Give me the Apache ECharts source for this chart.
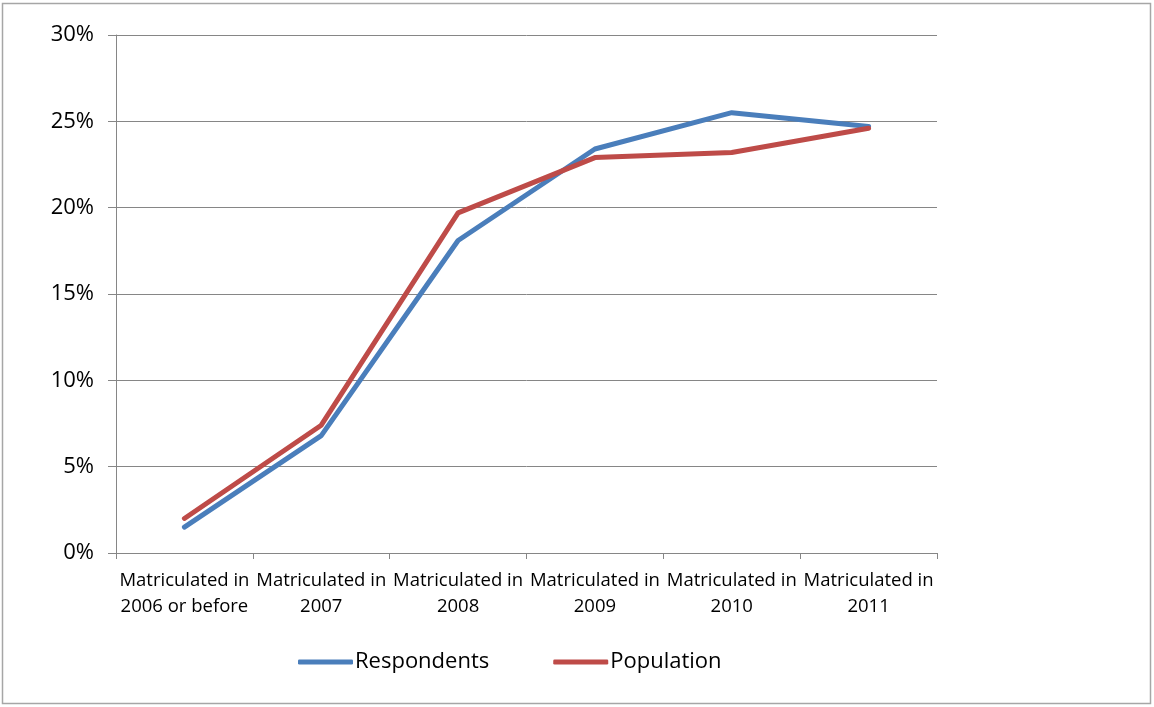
<!DOCTYPE html>
<html>
<head>
<meta charset="utf-8">
<script src="https://cdn.jsdelivr.net/npm/echarts@6/dist/echarts.min.js"></script>
<style>
  html, body { margin: 0; padding: 0; background: #fff; }
  #chart { width: 1154px; height: 707px; }
</style>
</head>
<body>
<div id="chart"></div>
<script>
var categories = ['Matriculated in\n2006 or before', 'Matriculated in\n2007', 'Matriculated in\n2008',
  'Matriculated in\n2009', 'Matriculated in\n2010', 'Matriculated in\n2011']
var respondents = [1.5, 6.8, 18.1, 23.4, 25.5, 24.7]
var population = [2.0, 7.4, 19.7, 22.9, 23.2, 24.6]
var yTicks = [0, 5, 10, 15, 20, 25, 30]

var myChart = echarts.init(document.getElementById('chart'))
var font = 'Open Sans, Liberation Sans, sans-serif'
var option = {
  animation: false,
  graphic: [{
    type: 'rect',
    shape: { x: 2.5, y: 3.5, width: 1148, height: 700 },
    style: { fill: 'none', stroke: '#a6a6a6', lineWidth: 1.5 }
  }],
  grid: { left: 116, right: 217, top: 35, bottom: 154 },
  legend: {
    top: 646,
    left: 293,
    itemWidth: 55,
    itemHeight: 5,
    itemGap: 64,
    icon: 'roundRect',
    textStyle: { fontFamily: font, fontSize: 22, color: '#000', padding: [0, 0, 0, -3] },
    data: ['Respondents', 'Population']
  },
  xAxis: {
    type: 'category',
    boundaryGap: true,
    data: categories,
    axisLine: { lineStyle: { color: '#868686', width: 1 } },
    axisTick: { show: true, length: 6, lineStyle: { color: '#868686' } },
    axisLabel: { interval: 0, fontFamily: font, fontSize: 18.5, color: '#000', lineHeight: 26, margin: 15 },
    splitLine: { show: false }
  },
  yAxis: {
    type: 'value',
    min: yTicks[0],
    max: yTicks[yTicks.length - 1],
    interval: 5,
    axisLine: { show: true, lineStyle: { color: '#868686', width: 1 } },
    axisTick: { show: true, length: 8, inside: false, lineStyle: { color: '#868686' } },
    axisLabel: { formatter: '{value}%', fontFamily: font, fontSize: 22, color: '#000', margin: 22 },
    splitLine: { show: true, lineStyle: { color: '#868686', width: 1 } }
  },
  series: [{
    name: 'Respondents',
    type: 'line',
    data: respondents,
    symbol: 'none',
    lineStyle: { color: '#4a7ebb', width: 5, cap: 'round', join: 'round' },
    itemStyle: { color: '#4a7ebb' }
  }, {
    name: 'Population',
    type: 'line',
    data: population,
    symbol: 'none',
    lineStyle: { color: '#be4b48', width: 5, cap: 'round', join: 'round' },
    itemStyle: { color: '#be4b48' }
  }]
}
myChart.setOption(option)
</script>
</body>
</html>
